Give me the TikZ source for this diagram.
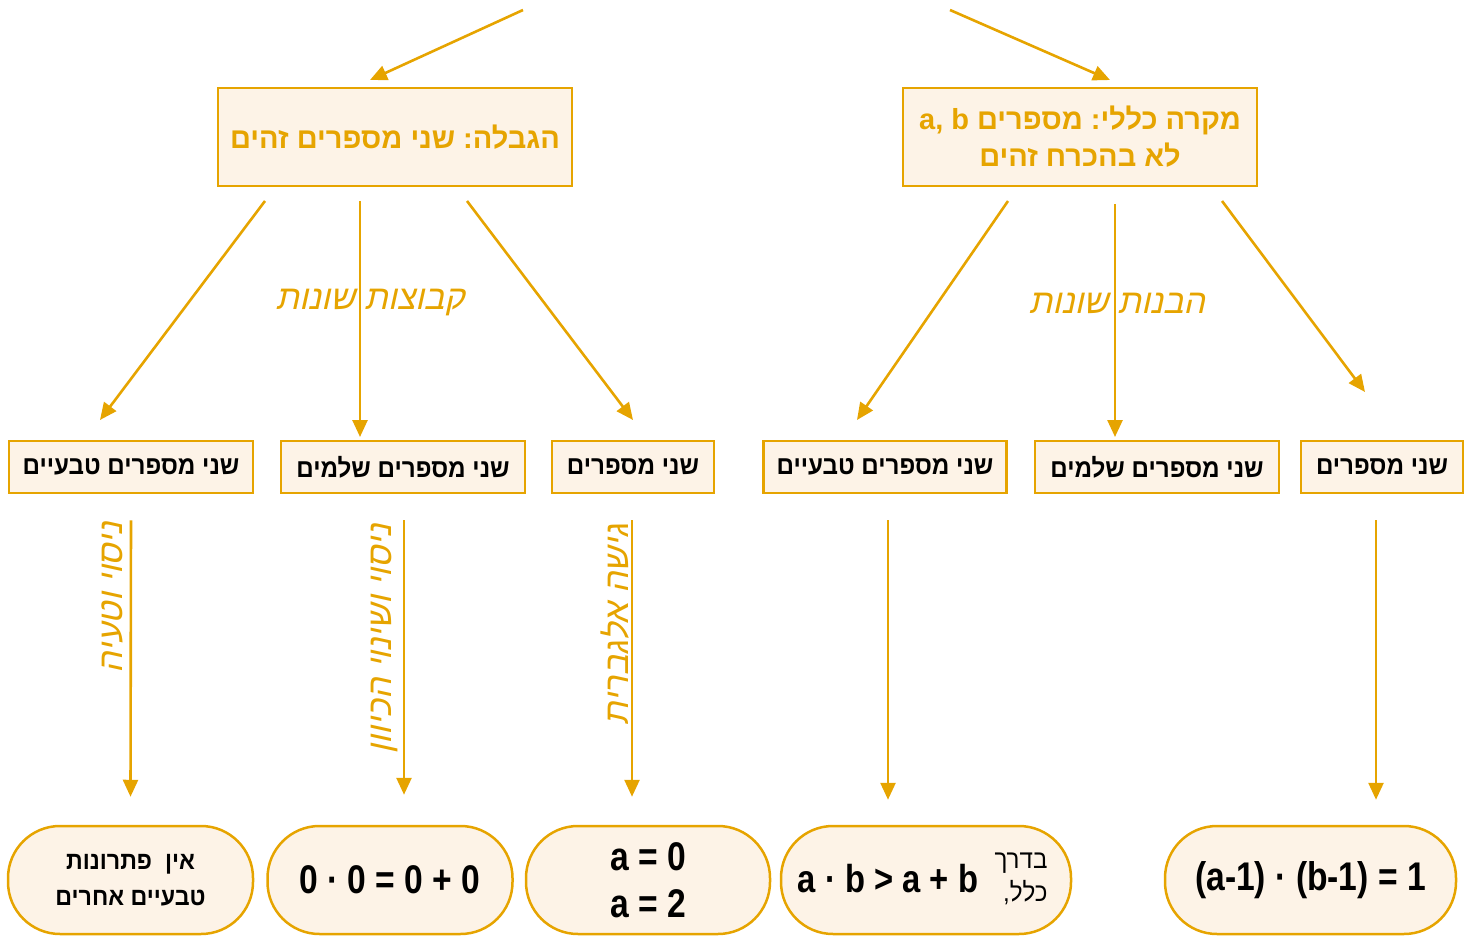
\documentclass[tikz,border=0pt]{standalone}
\usepackage{fontspec}
\usetikzlibrary{arrows.meta}
\TeXXeTstate=1
\frenchspacing
\setmainfont{Liberation Sans}
\newfontfamily\heb[Script=Hebrew]{Liberation Sans Bold}
\newfontfamily\hebn[Script=Hebrew,FakeStretch=0.93]{Liberation Sans Bold}
\newfontfamily\hebr[Script=Hebrew,FakeStretch=0.93]{Liberation Sans}
\newfontfamily\mathn[FakeStretch=0.84]{Liberation Sans Bold}
\newfontfamily\hand[Script=Hebrew,FakeSlant=0.22]{Liberation Sans}
\definecolor{org}{HTML}{E6A400}
\definecolor{cream}{HTML}{FDF3E7}
\tikzset{
  topbox/.style={draw=org, fill=cream, line width=2.5pt, minimum width=354pt,
    minimum height=98pt, inner sep=0pt, text=org, align=center,
    font=\heb\fontsize{29}{37}\selectfont},
  midbox/.style={draw=org, fill=cream, line width=2.5pt, minimum height=52pt,
    inner sep=0pt, font=\hebn\fontsize{26}{26}\selectfont},
  endbox/.style={draw=org, fill=cream, line width=2.5pt, rounded corners=52pt,
    minimum height=108pt, inner sep=0pt},
  link/.style={draw=org, line width=2.6pt, -{Triangle[length=17pt,width=15pt]}},
  handlabel/.style={text=org, inner sep=0pt, font=\hand\fontsize{34}{34}\selectfont},
}
\begin{document}
\begin{tikzpicture}[x=1pt,y=-1pt]
\useasboundingbox (0,0) rectangle (1472,936);

% top level
\node[topbox] (special) at (395,137) {\beginR הגבלה: שני מספרים זהים\endR};
\node[topbox] (general) at (1080,137) {\beginR מקרה כללי: מספרים \beginL a, b\endL\endR\\\beginR לא בהכרח זהים\endR};

% middle level
\node[midbox, minimum width=244pt] (l1) at (131,467) {\beginR שני מספרים טבעיים\endR};
\node[midbox, minimum width=244pt] (l2) at (403,467) {\beginR שני מספרים שלמים\endR};
\node[midbox, minimum width=162pt] (l3) at (633,467) {\beginR שני מספרים\endR};
\node[midbox, minimum width=243pt] (r1) at (885,467) {\beginR שני מספרים טבעיים\endR};
\node[midbox, minimum width=244pt] (r2) at (1157,467) {\beginR שני מספרים שלמים\endR};
\node[midbox, minimum width=162pt] (r3) at (1382,467) {\beginR שני מספרים\endR};

% bottom level
\node[endbox, minimum width=245pt, align=center, font=\hebn\fontsize{25}{36}\selectfont] (e1) at (130.5,880)
  {\beginR אין\ \ פתרונות\endR\\\beginR טבעיים אחרים\endR};
\node[endbox, minimum width=245pt, font=\mathn\fontsize{40}{40}\selectfont] (e2) at (390,880) {0 · 0 = 0 + 0};
\node[endbox, minimum width=244pt, align=center, font=\mathn\fontsize{40}{47}\selectfont] (e3) at (648,880) {a = 0\\a = 2};
\node[endbox, minimum width=290pt] (e4) at (926,880) {};
\node[font=\mathn\fontsize{39}{39}\selectfont, inner sep=0pt] (e4a) at (888,879) {a · b > a + b};
\node[font=\hebr\fontsize{26}{33}\selectfont, align=right, inner sep=0pt] (e4b) at (1021,879) {\beginR בדרך\endR\\\beginR כלל,\endR};
\node[endbox, minimum width=291pt, font=\mathn\fontsize{40}{40}\selectfont] (e5) at (1310.5,880) {(a-1) · (b-1) = 1};

% connector end points
\coordinate (in1) at (523,10);   \coordinate (in1e) at (370,80);
\coordinate (in2) at (950,10);   \coordinate (in2e) at (1110,80);
\coordinate (s1) at (265,201);   \coordinate (s1e) at (100,420);
\coordinate (s2) at (360,201);   \coordinate (s2e) at (360,437);
\coordinate (s3) at (467,201);   \coordinate (s3e) at (633,420);
\coordinate (g1) at (1008,201);  \coordinate (g1e) at (857,420);
\coordinate (g2) at (1115,204);  \coordinate (g2e) at (1115,437);
\coordinate (g3) at (1222,201);  \coordinate (g3e) at (1365,392);

\draw[link] (in1) -- (in1e);
\draw[link] (in2) -- (in2e);
\draw[link] (s1) -- (s1e);
\draw[link] (s2) -- (s2e);
\draw[link] (s3) -- (s3e);
\draw[link] (g1) -- (g1e);
\draw[link] (g2) -- (g2e);
\draw[link] (g3) -- (g3e);

% vertical links from the middle boxes down to the results
\draw[link] ([yshift=-26pt]l1.south) -- ([yshift=28pt]e1.north);
\draw[link] ([xshift=1pt,yshift=-26pt]l2.south) -- ([xshift=14pt,yshift=30pt]e2.north);
\draw[link] ([xshift=-1pt,yshift=-26pt]l3.south) -- ([xshift=-16pt,yshift=28pt]e3.north);
\draw[link] ([xshift=3pt,yshift=-26pt]r1.south) -- ([xshift=-38pt,yshift=25pt]e4.north);
\draw[link] ([xshift=-6pt,yshift=-26pt]r3.south) -- ([xshift=65.5pt,yshift=25pt]e5.north);

% handwritten labels
\node[handlabel] (h1) at (370,303) {\beginR קבוצות שונות\endR};
\node[handlabel] (h2) at (1117,303) {\beginR הבנות שונות\endR};
\node[handlabel, rotate=90] (v1) at (112,598) {\beginR ניסוי וטעיה\endR};
\node[handlabel, rotate=90] (v2) at (385,639) {\beginR ניסוי ושינוי הכיוון\endR};
\node[handlabel, rotate=90] (v3) at (615,625) {\beginR גישה אלגברית\endR};
\end{tikzpicture}
\end{document}
